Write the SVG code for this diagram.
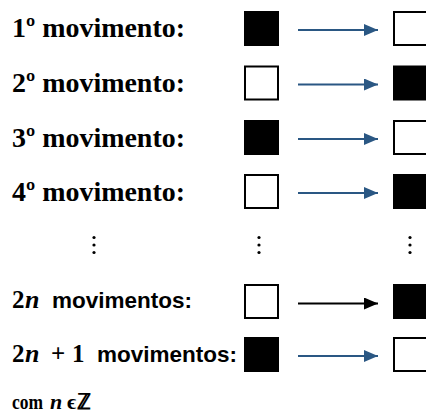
<svg xmlns="http://www.w3.org/2000/svg" width="426" height="418" viewBox="0 0 426 418">
<defs>
<style>
.lbl{font-family:"Liberation Serif","Times New Roman",serif;font-weight:bold;font-size:28px;fill:#000}
.sans{font-family:"Liberation Sans",Arial,sans-serif;font-weight:bold;font-size:22px;fill:#000}
.math{font-family:"Liberation Serif","Times New Roman",serif;font-weight:bold;font-size:25px;fill:#000}
.it{font-style:italic}
.sq{stroke:#000;stroke-width:2}
.w{fill:#fff}
.b{fill:#000}
.arr{stroke:#2a5783;stroke-width:2;fill:none}
.arrk{stroke:#000;stroke-width:2;fill:none}
.dot{fill:#000}
</style>
<marker id="ah" viewBox="0 0 14 12" refX="14" refY="6" markerWidth="14" markerHeight="12" markerUnits="userSpaceOnUse" orient="auto">
<path d="M0,0 L14,6 L0,12 Z" fill="#2a5783"/>
</marker>
<marker id="ahk" viewBox="0 0 14 12" refX="14" refY="6" markerWidth="14" markerHeight="12" markerUnits="userSpaceOnUse" orient="auto">
<path d="M0,0 L14,6 L0,12 Z" fill="#000"/>
</marker>
</defs>
<rect width="426" height="418" fill="#fff"/>

<g id="labels">
<text class="lbl" x="12" y="37" textLength="173" lengthAdjust="spacingAndGlyphs">1º movimento:</text>
<text class="lbl" x="12" y="92" textLength="173" lengthAdjust="spacingAndGlyphs">2º movimento:</text>
<text class="lbl" x="12" y="146.5" textLength="173" lengthAdjust="spacingAndGlyphs">3º movimento:</text>
<text class="lbl" x="12" y="201" textLength="173" lengthAdjust="spacingAndGlyphs">4º movimento:</text>
<text class="math" x="12" y="308">2</text>
<text class="math it" x="25" y="308" style="font-size:26px">n</text>
<text class="sans" x="52" y="308" textLength="140" lengthAdjust="spacingAndGlyphs">movimentos:</text>
<text class="math" x="12" y="361.5">2</text>
<text class="math it" x="25" y="361.5" style="font-size:26px">n</text>
<text class="math" x="51" y="361.5">+</text>
<text class="math" x="72" y="361.5">1</text>
<text class="sans" x="97" y="361.5" textLength="140" lengthAdjust="spacingAndGlyphs">movimentos:</text>
<text class="math" x="12" y="409" style="font-size:22px" textLength="31" lengthAdjust="spacingAndGlyphs">com</text>
<text class="math it" x="50" y="409" style="font-size:22px">n</text>
<text class="math" x="67" y="409" style="font-size:22px">ϵ</text>
<text class="math" x="77" y="409" style="font-size:22px">ℤ</text>
</g>

<g id="dots">
<circle class="dot" cx="94" cy="237.5" r="1.6"/><circle class="dot" cx="94" cy="245" r="1.6"/><circle class="dot" cx="94" cy="252.5" r="1.6"/>
<circle class="dot" cx="259" cy="237.5" r="1.6"/><circle class="dot" cx="259" cy="245" r="1.6"/><circle class="dot" cx="259" cy="252.5" r="1.6"/>
<circle class="dot" cx="410" cy="237.5" r="1.6"/><circle class="dot" cx="410" cy="245" r="1.6"/><circle class="dot" cx="410" cy="252.5" r="1.6"/>
</g>

<g id="row1"><rect class="sq b" x="245" y="12" width="33" height="33"/><rect class="sq w" x="394" y="12" width="40" height="33"/></g>
<g id="row2"><rect class="sq w" x="245" y="66.5" width="33" height="33"/><rect class="sq b" x="394" y="66.5" width="40" height="33"/></g>
<g id="row3"><rect class="sq b" x="245" y="121" width="33" height="33"/><rect class="sq w" x="394" y="121" width="40" height="33"/></g>
<g id="row4"><rect class="sq w" x="245" y="175" width="33" height="33"/><rect class="sq b" x="394" y="175" width="40" height="33"/></g>
<g id="row2n"><rect class="sq w" x="245" y="285" width="33" height="33"/><rect class="sq b" x="394" y="285" width="40" height="33"/></g>
<g id="row2n1"><rect class="sq b" x="245" y="338" width="33" height="33"/><rect class="sq w" x="394" y="338" width="40" height="33"/></g>

<g id="connectors">
<line class="arr" x1="298" y1="30" x2="378" y2="30" marker-end="url(#ah)"/>
<line class="arr" x1="298" y1="84.5" x2="378" y2="84.5" marker-end="url(#ah)"/>
<line class="arr" x1="298" y1="139" x2="378" y2="139" marker-end="url(#ah)"/>
<line class="arr" x1="298" y1="193" x2="378" y2="193" marker-end="url(#ah)"/>
<line class="arrk" x1="298" y1="303.5" x2="378" y2="303.5" marker-end="url(#ahk)"/>
<line class="arr" x1="298" y1="356" x2="378" y2="356" marker-end="url(#ah)"/>
</g>
</svg>
